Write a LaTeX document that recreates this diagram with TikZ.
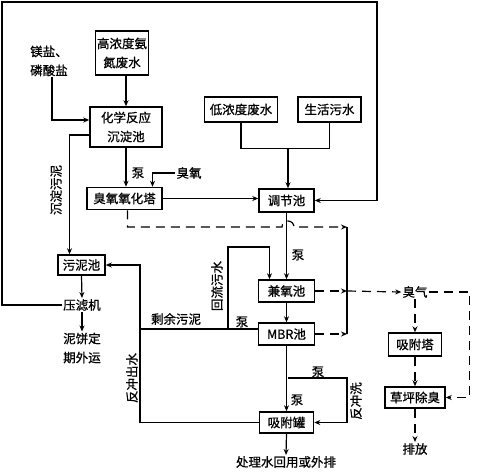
\documentclass[tikz,border=0pt]{standalone}
\usepackage{fontspec}
\setmainfont{Noto Sans CJK SC}[FakeBold=0.8]
\usepackage{tikz}
\usetikzlibrary{shapes,arrows,arrows.meta}

\begin{document}
\begin{tikzpicture}[x=1pt,y=-1pt,>={Stealth[length=6pt,width=5pt]},
  font=\fontsize{12.5}{19}\selectfont,
  box/.style={draw,line width=1.5pt,inner sep=0pt,align=center},
  ln/.style={line width=1.2pt},
  dsh/.style={line width=1.2pt,dash pattern=on 9pt off 6pt},
  lbl/.style={inner sep=1pt}]
\useasboundingbox (0,0) rectangle (480,472);

% to draw boxes
\node [box,minimum width=53pt,minimum height=44pt] (gao) at (122,53) {高浓度氨\\氮废水};
\node [box,minimum width=72pt,minimum height=40pt] (hx) at (126,127) {化学反应\\沉淀池};
\node [box,minimum width=75pt,minimum height=22pt] (ox) at (124.5,198.5) {臭氧氧化塔};
\node [box,minimum width=73pt,minimum height=25pt] (low) at (241,109.5) {低浓度废水};
\node [box,minimum width=63pt,minimum height=25pt] (life) at (329.5,109.5) {生活污水};
\node [box,minimum width=55pt,minimum height=23pt] (tj) at (286.5,200.5) {调节池};
\node [box,minimum width=56pt,minimum height=22pt] (jy) at (286.5,291) {兼氧池};
\node [box,minimum width=56pt,minimum height=22pt] (mbr) at (286.5,334) {MBR池};
\node [box,minimum width=54pt,minimum height=21pt] (xfg) at (286.5,422.5) {吸附罐};
\node [box,minimum width=53pt,minimum height=23pt] (xft) at (415,344.5) {吸附塔};
\node [box,minimum width=60pt,minimum height=21pt] (cp) at (415,397.5) {草坪除臭};
\node [box,minimum width=47pt,minimum height=20pt] (wn) at (81.5,265) {污泥池};

% to write texts
\node [lbl,align=left] (salt) at (49,61) {镁盐、\\磷酸盐};
\node [lbl] (o3) at (189,173) {臭氧};
\node [lbl] (yl) at (82,305) {压滤机};
\node [lbl,align=center] (nb) at (82,348) {泥饼定\\期外运};
\node [lbl] (cq) at (415,292) {臭气};
\node [lbl] (pf) at (415,449) {排放};
\node [lbl] (out) at (286,462) {处理水回用或外排};
\node [lbl] (p1) at (138,173) {泵};
\node [lbl] (p2) at (298,255) {泵};
\node [lbl] (p3) at (242,322) {泵};
\node [lbl] (p4) at (318,372) {泵};
\node [lbl] (p5) at (297,400) {泵};
\node [lbl] (sy) at (176,319) {剩余污泥};
\node [lbl,rotate=90] (cdw) at (56,190) {沉淀污泥};
\node [lbl,rotate=90] (hlw) at (217,286) {回流污水};
\node [lbl,rotate=90] (fcc) at (132,378) {反冲出水};
\node [lbl,rotate=90] (fcx) at (356,401) {反冲洗};

% to draw coordinates
\coordinate (mix) at (288,148);
\coordinate (hl) at (228,329);
\coordinate (sj) at (140,329);
\coordinate (fc) at (288,378);
\coordinate (vt) at (347,227);
\coordinate (vb) at (347,334);

% to draw solid arrows
\draw [ln,->] (gao.south -| hx.north) -- (hx.north);
\draw [ln,->] ([xshift=3pt]salt.south) |- ([yshift=7pt]hx.west);
\draw [ln,->] ([yshift=-8pt]hx.west) -| ([xshift=-12pt]wn.north);
\draw [ln,->] (hx.south) -- (hx.south |- ox.north);
\draw [ln,->] (o3.west) -| ([xshift=28pt]ox.north);
\draw [ln,->] (ox.east) -- (ox.east -| tj.west);
\draw [ln] (low.south) -- ++(0,26) -| (life.south);
\draw [ln,->] (mix) -- (mix |- tj.north);
\draw [ln,->] (yl.west) -| (2,2) -| (377,200.5) -- (tj.east);
\draw [ln,->] (tj.south) -- (jy.north);
\draw [ln,->] (jy.south) -- (mbr.north);
\draw [ln,->] (hl) -- ++(0,-82) -| ([xshift=-17pt]jy.north);
\draw [ln] ([yshift=5pt]mbr.west) -- (sj);
\draw [ln,->] (xfg.west) -| (sj |- wn.east) -- (wn.east);
\draw [ln,->] (mbr.south) -- (xfg.north);
\draw [ln,->] (fc) -- ++(59,0) |- (xfg.east);
\draw [ln,->] (xfg.south) -- (out.north);
\draw [ln,->] (wn.south) -- (yl.north);
\draw [ln,->] (yl.south) -- (nb.north);

% to draw dashed lines
\draw [ln] (vt) -- (vb);
\draw [dsh,->] ([xshift=3pt]ox.south) |- (282,227) arc[start angle=180,end angle=360,radius=6] -- (vt);
\draw [dsh,->] (jy.east) -- (jy.east -| vt);
\draw [dsh,->] (mbr.east) -- (mbr.east -| vt);
\draw [dsh,->] (jy.east -| vt) -- (cq.west);
\draw [dsh,->] (cq.east) -- ++(41,0) |- (cp.east);
\draw [dsh,->] (cq.south) -- (xft.north);
\draw [dsh,->] (xft.south) -- (cp.north);
\draw [dsh,->] (cp.south) -- (pf.north);
\end{tikzpicture}
\end{document}
